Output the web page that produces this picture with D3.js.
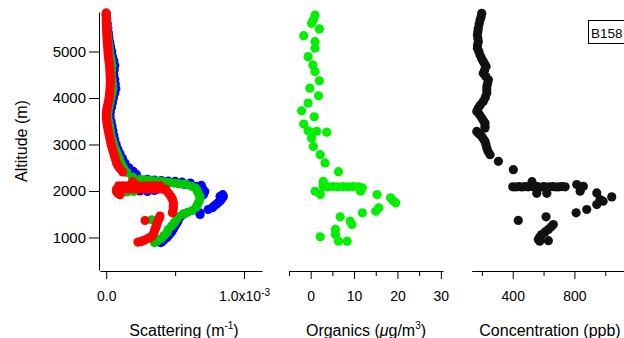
<!DOCTYPE html>
<html><head><meta charset="utf-8">
<script src="https://cdn.jsdelivr.net/npm/d3@7"></script>
<style>body{margin:0;background:#fff} svg text{font-family:"Liberation Sans",Arial,sans-serif;fill:#000}</style>
</head><body><svg id="c" width="624" height="338"></svg>
<script>
// ---- data: [altitude (m), value] ----
// scattering values in units of 1e-6 m^-1
const altTicks = [1000, 2000, 3000, 4000, 5000];
const scatMajor = [0, 1000], scatMinor = [500];
const orgMajor = [0, 10, 20, 30], orgMinor = [-5, 5, 15, 25];
const conMajor = [400, 800], conMinor = [200, 600, 1000];
const legendLabel = "B158";

const blueScat = [
[5800,2],[5700,4],[5600,8],[5500,12],[5400,16],[5300,20],[5200,26],[5100,32],[5000,40],[4900,45],[4800,55],[4700,62],[4600,58],[4500,55],[4400,62],[4300,66],[4200,70],[4100,62],[4000,52],[3900,45],[3800,38],[3700,30],[3600,28],[3500,35],[3400,42],[3300,48],[3200,55],[3100,62],[3000,72],[2900,85],[2800,100],[2700,118],[2600,136],[2500,165],[2420,197],[2350,220],
[2250,300],[2235,350],[2225,400],[2215,450],[2205,500],[2190,550],[2140,570],[2170,610],[2100,655],[2120,690],[2050,700],[1990,715],[1920,705],
[2000,245],[1990,300],[2010,350],
[1886,826],[1920,845],[1880,850],[1840,840],[1800,830],[1760,815],[1720,800],[1680,785],[1640,770],[1601,740],[1530,680],[1494,681],
[1500,560],[1450,540],[1386,524],[1340,518],[1300,510],[1250,500],[1200,490],[1150,480],[1100,470],[1050,455],[1000,440],[950,420],[910,405],[890,395]
];
const greenScat = [
[5800,0],[5700,2],[5600,4],[5500,6],[5400,8],[5300,12],[5200,16],[5100,20],[5000,25],[4900,30],[4800,36],[4700,42],[4600,40],[4500,38],[4400,42],[4300,46],[4200,48],[4100,42],[4000,35],[3900,28],[3800,20],[3700,14],[3600,12],[3500,18],[3400,25],[3300,30],[3200,36],[3100,45],[3000,55],[2900,68],[2800,80],[2700,95],[2600,108],[2500,125],[2400,150],[2300,190],
[2250,250],[2240,280],[2230,310],[2220,340],[2210,370],[2200,400],[2190,430],[2180,460],[2170,490],[2160,520],[2150,550],[2140,580],[2100,620],[2060,650],
[1960,100],[1980,150],[1990,200],
[2000,660],[1940,670],[1880,680],[1820,680],[1760,670],[1700,660],[1640,650],[1580,625],[1540,590],[1500,560],
[1440,520],[1380,510],[1320,495],[1250,475],[1170,450],[1100,440],[1040,420],[980,400],[930,375],[890,350],
[1380,330]
];
const redScat = [
[5830,0],[5780,0],[5720,0],[5660,0],[5600,1],[5540,2],[5480,3],[5420,4],[5360,5],[5300,6],[5240,7],[5180,8],[5120,10],[5060,12],[5000,13],[4940,15],[4880,17],[4820,19],[4760,22],[4700,24],[4640,26],[4580,27],[4520,28],[4460,29],[4400,30],[4340,30],[4280,29],[4220,28],[4160,27],[4100,25],[4040,23],[3980,20],[3920,16],[3860,12],[3800,8],[3740,4],[3680,2],[3620,0],[3560,2],[3500,4],[3440,7],[3380,10],[3320,14],[3260,18],[3200,22],[3140,26],[3080,30],[3020,35],[2960,40],[2900,46],[2840,52],[2780,58],[2720,64],[2660,70],[2600,75],[2540,85],[2480,100],[2410,120],
[2030,75],[1990,75],[1950,85],[1920,100],[2200,190],[2170,200],
[2110,90],[2110,120],[2110,150],[2110,180],[2110,210],[2110,240],[2110,270],[2110,300],[2110,330],[2110,360],[2110,390],
[2040,80],[2040,110],[2040,140],[2040,170],[2040,200],[2040,230],[2040,260],[2040,290],[2040,320],[2040,350],[2040,380],[2040,410],[2040,430],
[2000,440],[1940,455],[1880,470],[1820,480],[1760,487],[1700,487],[1640,487],[1580,485],[1530,480],
[1365,282],
[1460,390],[1420,385],[1380,380],[1340,372],[1300,368],[1260,365],[1220,360],[1180,355],[1140,350],[1100,345],[1060,340],[1020,330],[990,310],[960,290],[930,270],[910,250],[900,230]
];
// organics (µg/m3)
const orgData = [
[5785,1.0],[5678,0.6],[5607,0.2],[5485,2.0],[5341,-1.6],[5212,1.0],[5071,1.0],[4890,-0.6],[4712,0.5],[4569,1.0],[4369,2.0],[4212,-0.2],[4047,1.8],[3891,-0.6],[3725,-2.1],[3597,0.8],[3440,-1.6],[3296,-0.6],[3255,0.3],[3285,1.4],[3264,3.7],[3140,0.2],[2959,0.6],[2781,2.2],[2603,3.3],[2416,6.4],[2208,2.9],[2137,2.9],
[2094,2.9],[2090,4.0],[2094,5.2],[2090,6.3],[2094,7.5],[2090,8.7],[2094,9.8],[2090,11.0],[2067,11.9],[1994,11.5],
[1994,1.0],[1923,2.2],[1923,15.3],[1852,18.4],[1790,19.0],[1745,19.6],[1637,15.7],[1564,15.0],[1530,11.9],[1444,6.8],[1350,9.1],[1279,9.5],[1172,5.7],[1064,5.7],[1015,2.2],[921,6.4],[921,8.4]
];
// concentration (ppb)
const conData = [
[5822,199],[5750,195],[5678,188],[5590,182],[5500,177],[5430,174],[5356,171],[5280,174],[5212,177],[5140,172],[5071,171],[5000,180],[4927,188],[4850,198],[4783,209],[4730,218],[4676,227],[4600,218],[4534,209],[4460,225],[4391,242],[4320,238],[4247,232],[4175,232],[4105,232],[4010,222],[3925,209],[3850,190],[3783,177],[3710,167],[3640,185],[3569,199],[3510,210],[3461,220],[3400,220],[3354,220],[3281,167],[3230,180],[3174,199],[3120,210],[3067,220],[3000,226],[2925,232],[2850,240],[2781,253],[2637,307],[2459,404],
[2090,400],[2085,420],[2095,440],[2085,460],[2095,480],[2090,500],[2200,525],[2100,520],[2085,540],[2095,560],[2080,580],[2095,600],[2085,620],[2090,640],[2095,660],[2085,680],[2090,700],[2095,720],[2090,740],[1950,556],[1950,621],
[2137,815],[2100,858],[1994,837],[1959,945],[1815,966],[1708,945],[1873,1042],[1779,986],[1601,880],[1530,811],
[1367,436],[1444,616],[1279,663],[1230,650],[1172,631],[1120,610],[1064,588],[1010,575],[957,566],[920,575],[930,631]
];

// ---- scales ----
const svg = d3.select("#c");
const yAlt = d3.scaleLinear().domain([300, 5850]).range([270, 12]);
const xSca = d3.scaleLinear().domain([-45, 1130]).range([100, 262]);
const xOrg = d3.scaleLinear().domain([-5, 30.5]).range([289, 443]);
const xCon = d3.scaleLinear().domain([134, 1150]).range([471.7, 628.4]);

function dots(data, x, color) {
  svg.append("g").selectAll("circle").data(data).join("circle")
    .attr("cx", d => x(d[1])).attr("cy", d => yAlt(d[0])).attr("r", 4.6).attr("fill", color);
}
dots(blueScat, xSca, "#0000ff");
dots(greenScat, xSca, "#00c800");
dots(redScat, xSca, "#ff0000");
dots(orgData, xOrg, "#00f000");
dots(conData, xCon, "#111111");

function styleAxis(g, fs) {
  g.attr("font-family", null).attr("font-size", null);
  g.selectAll("text").style("font-size", fs + "px");
  g.selectAll("path,line").attr("stroke", "#000");
}
// y axis
const ya = svg.append("g").attr("transform", "translate(99,0)")
  .call(d3.axisLeft(yAlt).tickValues(altTicks).tickSize(10).tickSizeOuter(0).tickPadding(3).tickFormat(d3.format("d")));
styleAxis(ya, 15);

function xAxis(scale, majors, minors, fmt) {
  const g = svg.append("g").attr("transform", "translate(0,271)");
  g.call(d3.axisBottom(scale).tickValues(majors).tickSize(8).tickSizeOuter(0).tickPadding(12).tickFormat(fmt));
  const m = g.append("g").call(d3.axisBottom(scale).tickValues(minors).tickSize(5).tickFormat(""));
  m.select(".domain").remove();
  styleAxis(g, 14);
  return g;
}
const g1 = xAxis(xSca, scatMajor, scatMinor, d => d === 0 ? "0.0" : "1.0x10");
g1.selectAll(".tick text").filter(d => d === 1000).append("tspan").attr("dy", "-0.5em").style("font-size", "10px").text("-3");
xAxis(xOrg, orgMajor, orgMinor, d3.format("d"));
xAxis(xCon, conMajor, conMinor, d3.format("d"));

// axis titles
const TFS = "16px";
svg.append("text").attr("transform", "translate(27,141) rotate(-90)").attr("text-anchor", "middle")
  .style("font-size", TFS).text("Altitude (m)");
const t1 = svg.append("text").attr("x", 184).attr("y", 336).attr("text-anchor", "middle").style("font-size", TFS);
t1.append("tspan").text("Scattering (m");
t1.append("tspan").attr("dy", "-7").style("font-size", "10px").text("-1");
t1.append("tspan").attr("dy", "7").text(")");
const t2 = svg.append("text").attr("x", 366).attr("y", 336).attr("text-anchor", "middle").style("font-size", TFS);
t2.append("tspan").text("Organics (");
t2.append("tspan").style("font-style", "italic").text("\u03bc");
t2.append("tspan").text("g/m");
t2.append("tspan").attr("dy", "-7").style("font-size", "10px").text("3");
t2.append("tspan").attr("dy", "7").text(")");
svg.append("text").attr("x", 550).attr("y", 336).attr("text-anchor", "middle").style("font-size", TFS).text("Concentration (ppb)");

// legend box (runs off the right edge as in the reference; text kept inside)
svg.append("rect").attr("x", 588.5).attr("y", 20.5).attr("width", 60).attr("height", 23).attr("fill", "#fff").attr("stroke", "#000");
svg.append("text").attr("x", 591).attr("y", 37.5).style("font-size", "13.5px").text(legendLabel);
</script></body></html>
